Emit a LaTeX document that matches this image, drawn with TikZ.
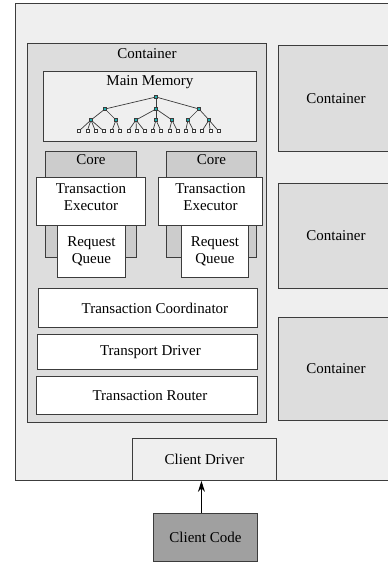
\documentclass[tikz,border=0pt]{standalone}
\usepackage{fontspec}
\setmainfont{Liberation Serif}
\usetikzlibrary{arrows, arrows.meta, positioning}
\definecolor{framegray}{HTML}{EFEFEF}
\definecolor{boxgray}{HTML}{DDDDDD}
\definecolor{coregray}{HTML}{CCCCCC}
\definecolor{codegray}{HTML}{A0A0A0}
\definecolor{edgegray}{HTML}{3C3C3C}
\definecolor{treeteal}{HTML}{22B0B0}
\newcommand{\boxline}{0.9pt}
\tikzstyle{block} = [% plain box, placed by its top left corner
  rectangle,
  anchor=north west,
  inner sep=0pt,
  line width=\boxline,
  draw=edgegray
  ]
\tikzstyle{layer} = [% white layer box
  block,
  fill=white,
  align=center
  ]
\tikzstyle{innernode} = [% tree node
  rectangle,
  minimum size=3pt,
  inner sep=0pt,
  draw=edgegray,
  line width=0.4pt,
  fill=treeteal
  ]
\tikzstyle{leafnode} = [% tree leaf
  innernode,
  fill=white
  ]
\tikzstyle{treeline} = [% tree edge
  draw=edgegray,
  line width=0.7pt
  ]
\tikzstyle{arrow} = [% arrow format
  line width=\boxline,
  draw=black,
  -{Stealth[length=11pt, width=7pt]}
  ]

\begin{document}
\begin{tikzpicture}[x=1pt, y=-1pt, node distance=2pt, font=\rmfamily\fontsize{15}{17.5}\selectfont]
\useasboundingbox (0,0) rectangle (388,565);

%%% Frames
\node[block, fill=framegray, minimum width=385pt, minimum height=477pt] (system) at (15,3) {};
\node[block, fill=boxgray, minimum width=239pt, minimum height=379pt] (cont) at (27,43) {};
\node[below=2pt of cont.north] (contlabel) {Container};
\node[block, fill=boxgray, minimum width=115pt, minimum height=106pt] (contA) at (278,45) {Container};
\node[block, fill=boxgray, minimum width=115pt, minimum height=105pt] (contB) at (278,183) {Container};
\node[block, fill=boxgray, minimum width=115pt, minimum height=103pt] (contC) at (278,317) {Container};

%%% Main memory
\node[block, fill=framegray, minimum width=213pt, minimum height=70pt] (mem) at (43,71) {};
\node[below=1.5pt of mem.north] (memlabel) {Main Memory};
\node[innernode] (root) at (156,97) {};
\foreach \n/\x in {m1/105, m2/156, m3/199}
  \node[innernode] (\n) at (\x,109) {};
\foreach \n/\x in {t1/91, t2/116, t3/136, t4/156, t5/172, t6/188, t7/209}
  \node[innernode] (\n) at (\x,120) {};
\foreach \n in {m1, m2, m3}
  \draw[treeline] (root) -- (\n);
\foreach \p/\n in {m1/t1, m1/t2, m2/t3, m2/t4, m2/t5, m3/t6, m3/t7}
  \draw[treeline] (\p) -- (\n);
\foreach \p [count=\i] in {t1, t1, t1, t1, t2, t2, t3, t3, t3, t4, t4, t5, t5, t6, t6, t7, t7, t7} {
  \node[leafnode] (l\i) at ({79 + 8.2*(\i-1)}, 131) {};
  \draw[treeline] (\p) -- (l\i);
}

%%% Cores
\node[block, fill=coregray, minimum width=91pt, minimum height=106pt] (core1) at (45,151) {};
\node[below=0.5pt of core1.north] (core1label) {Core};
\node[layer, minimum width=109pt, minimum height=48pt] (exec1) at (36,177) {Transaction\\Executor\\[-9pt]};
\node[layer, minimum width=68pt, minimum height=52pt] (queue1) at (57,225) {Request\\Queue};
\node[block, fill=coregray, minimum width=90pt, minimum height=106pt] (core2) at (166,151) {};
\node[below=0.5pt of core2.north] (core2label) {Core};
\node[layer, minimum width=104pt, minimum height=48pt] (exec2) at (158,177) {Transaction\\Executor\\[-9pt]};
\node[layer, minimum width=67pt, minimum height=52pt] (queue2) at (181,225) {Request\\Queue};

%%% Layers
\node[layer, minimum width=219pt, minimum height=39pt] (coord) at (38,288) {\hspace*{14pt}Transaction Coordinator};
\node[layer, minimum width=220pt, minimum height=35pt] (transport) at (37,334) {\hspace*{6pt}Transport Driver};
\node[layer, minimum width=221pt, minimum height=38pt] (router) at (36,376) {\hspace*{6pt}Transaction Router};

%%% Client
\node[block, fill=framegray, minimum width=144pt, minimum height=42pt] (driver) at (132,438) {Client Driver};
\node[block, fill=codegray, minimum width=104pt, minimum height=48pt] (code) at (153,513) {Client Code};
\draw[arrow] ([xshift=-4pt]code.north) -- ([xshift=-4pt]code.north |- driver.south);

\end{tikzpicture}
\end{document}
